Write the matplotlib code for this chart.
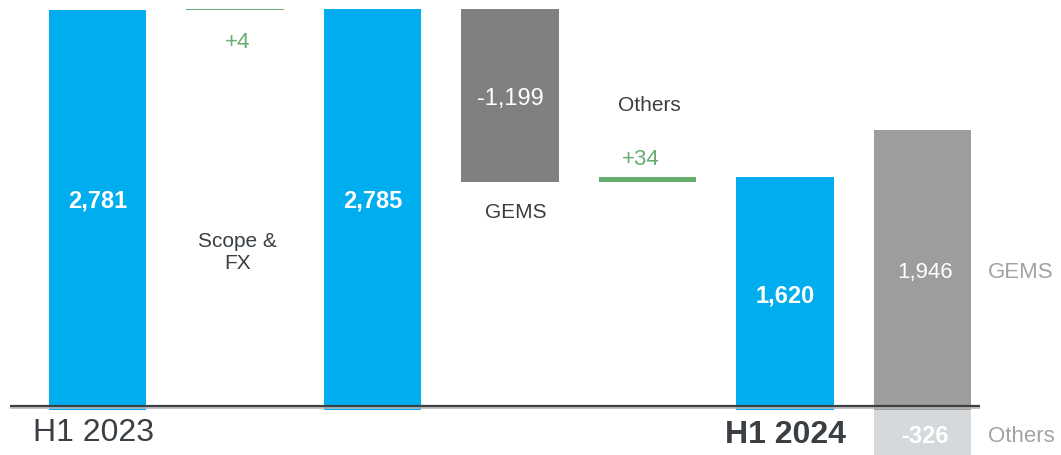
import matplotlib
matplotlib.use("Agg")
import matplotlib.pyplot as plt

plt.rcParams["font.family"] = ["Liberation Sans", "DejaVu Sans"]

# waterfall steps
step_names = ["H1 2023", "Scope &\nFX", "", "GEMS", "Others", "H1 2024"]
step_values = [2781, 4, 2785, -1199, 34, 1620]
step_kind = ["total", "delta", "total", "delta", "delta", "total"]
value_text = ["2,781", "+4", "2,785", "-1,199", "+34", "1,620"]

# split of H1 2024 (last column)
split_names = ["GEMS", "Others"]
split_values = [1946, -326]
split_text = ["1,946", "-326"]

BLUE = "#00aeef"
DARK = "#808080"
GREEN = "#66ad6e"
MID = "#9d9d9d"
LIGHT = "#d6d9dc"
TXT = "#3a3f44"

fig = plt.figure(figsize=(10.61, 4.55), dpi=100)
ax = fig.add_axes([0, 0, 1, 1])
W = 0.71

running = 0
for i, (v, kind) in enumerate(zip(step_values, step_kind)):
    if kind == "total":
        ax.bar(i, v, width=W, color=BLUE, zorder=2)
        lift = 60 if v > 2000 else -15
        ax.text(i, v / 2 + lift, value_text[i], color="white", fontsize=17,
                fontweight="bold", ha="center", va="center", zorder=4)
        running = v
    elif v < 0:
        ax.bar(i, -v, bottom=running + v, width=W, color=DARK, zorder=2)
        ax.text(i, running + v / 2 - 25, value_text[i], color="white",
                fontsize=17, ha="center", va="center", zorder=4)
        ax.text(i + 0.04, running + v - 215, step_names[i], color=TXT,
                fontsize=15, ha="center", va="center")
        running += v
    else:
        ax.bar(i, v, bottom=running, width=W, color=GREEN, zorder=2)
        top = running + v
        if i == 1:
            ax.text(i + 0.02, top - 230, value_text[i], color=GREEN,
                    fontsize=16, ha="center", va="center")
            ax.text(i + 0.02, top - 1690, step_names[i], color=TXT,
                    fontsize=15, ha="center", va="center", linespacing=1.25)
        else:
            ax.text(i - 0.05, top + 120, value_text[i], color=GREEN,
                    fontsize=16, ha="center", va="center")
            ax.text(i + 0.01, top + 500, step_names[i], color=TXT,
                    fontsize=15, ha="center", va="center")
        running = top

# split column
xs = len(step_values)
colors = [MID, LIGHT]
for v, c, t, n in zip(split_values, colors, split_text, split_names):
    ax.bar(xs, v, width=W, color=c, zorder=2)
    ax.text(xs + 0.02, v / 2 - 20, t, color="white", fontsize=17 if v < 0 else 16,
            fontweight="bold" if v < 0 else "normal",
            ha="center", va="center", zorder=4)
    ax.text(xs + 0.475, v / 2 - 20, n, color="#a3a3a3", fontsize=16,
            ha="left", va="center")

# baseline
ax.plot([-0.636, 6.418], [14, 14], color="#b8b8b8", lw=1.2, zorder=3,
        solid_capstyle="butt")
ax.plot([-0.636, 6.418], [28, 28], color="#3c4043", lw=1.6, zorder=3,
        solid_capstyle="butt")

# category labels under axis
ax.text(-0.03, -160, step_names[0], color=TXT, fontsize=23,
        ha="center", va="center")
ax.text(5.0, -172, step_names[5], color=TXT, fontsize=23,
        fontweight="bold", ha="center", va="center")

ax.set_xlim(-0.709, 7.007)
ax.set_ylim(-313, 2851)
ax.axis("off")

fig.savefig("out.png", dpi=100)
